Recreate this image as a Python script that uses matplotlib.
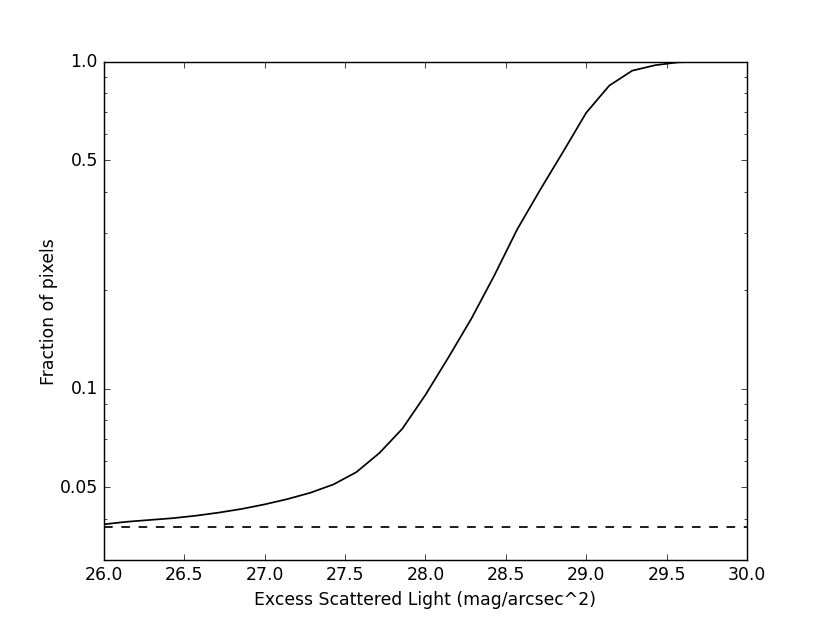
import numpy as np
import matplotlib
matplotlib.use("Agg")
import matplotlib.pyplot as plt
from matplotlib.ticker import FixedLocator, FixedFormatter, LogLocator, NullFormatter

plt.style.use("classic")

# magnitude bins (26 to 30, step 1/7) and cumulative fraction of pixels
mag = [26.0, 26.143, 26.286, 26.429, 26.571, 26.714, 26.857, 27.0, 27.143,
       27.286, 27.429, 27.571, 27.714, 27.857, 28.0, 28.143, 28.286, 28.429,
       28.571, 28.714, 28.857, 29.0, 29.143, 29.286, 29.429, 29.571, 29.714,
       29.857, 30.0]
frac = [0.0385, 0.0392, 0.0397, 0.0402, 0.0409, 0.0418, 0.0429, 0.0443, 0.0460,
        0.0481, 0.0510, 0.0556, 0.0636, 0.0755, 0.0957, 0.1246, 0.1638, 0.2222,
        0.3072, 0.406, 0.531, 0.698, 0.845, 0.939, 0.976, 0.996, 1.0,
        1.0, 1.0]
niveau = 0.0377  # dashed reference level

ytick_val = [0.05, 0.1, 0.5, 1.0]
ytick_lab = ["0.05", "0.1", "0.5", "1.0"]

fig = plt.figure(figsize=(8, 6), dpi=103.75)
ax = fig.add_subplot(111)

ax.plot(mag, frac, color="black", lw=1.2)
ax.plot([26, 30], [niveau, niveau], color="black", lw=1.2, linestyle="--", dashes=(6, 6))

ax.set_yscale("log")
ax.set_xlim(26, 30)
ax.set_ylim(0.03, 1.0)
ax.yaxis.set_major_locator(FixedLocator(ytick_val))
ax.yaxis.set_major_formatter(FixedFormatter(ytick_lab))
ax.yaxis.set_minor_locator(LogLocator(base=10, subs=np.arange(2, 10)))
ax.yaxis.set_minor_formatter(NullFormatter())
ax.set_xticks(np.arange(26, 30.01, 0.5))
ax.set_xticklabels(["%.1f" % v for v in np.arange(26, 30.01, 0.5)])

ax.set_xlabel("Excess Scattered Light (mag/arcsec^2)")
ax.set_ylabel("Fraction of pixels", labelpad=1)

fig.savefig("out.png", dpi=103.75)
